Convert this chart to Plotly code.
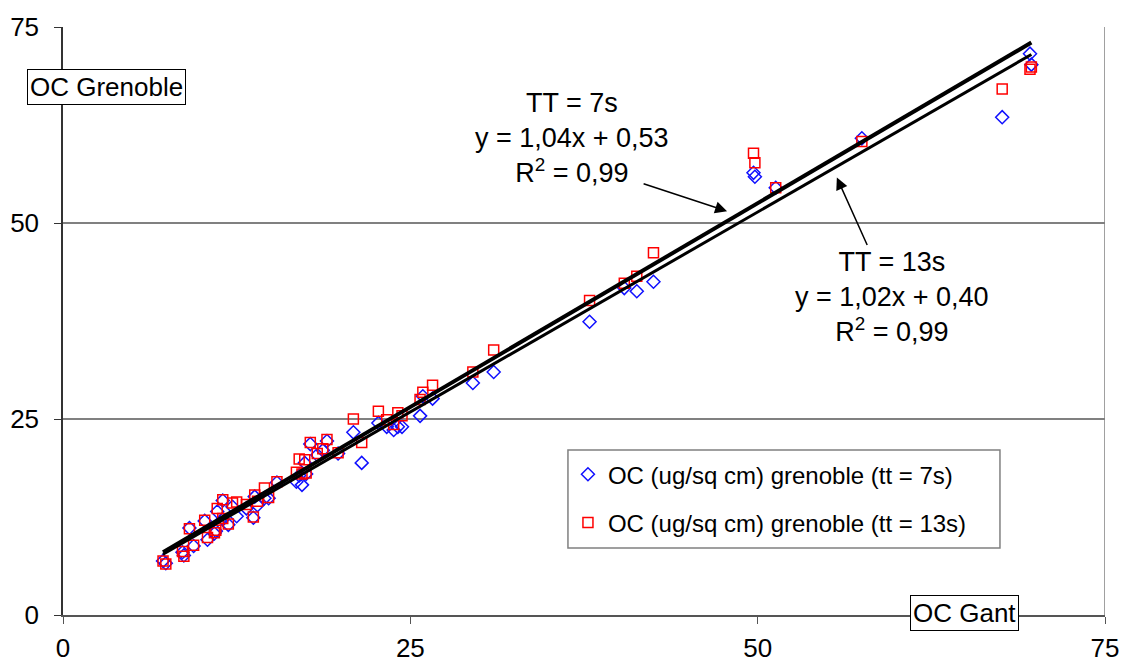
import plotly.graph_objects as go

# OC Gant (x) vs OC Grenoble (y) for both transit times
oc_gant = [7.2, 7.4, 8.6, 8.7, 9.1, 9.4, 10.2, 10.4, 10.9, 11.1, 11.0, 11.5, 11.5, 11.9,
           12.2, 12.5, 13.2, 13.7, 13.8, 14.0, 14.5, 14.8, 15.4, 16.8, 17.0, 17.2, 17.4,
           17.5, 17.8, 18.3, 18.7, 19.0, 19.8, 20.9, 21.5, 22.7, 23.3, 23.8, 24.1, 24.4,
           25.7, 25.9, 26.6, 29.5, 31.0, 37.9, 40.4, 41.3, 42.5, 49.7, 49.8, 51.3, 57.5,
           67.6, 69.6, 69.7]
oc_gre_7s = [6.9, 6.6, 8.0, 7.6, 11.1, 8.8, 12.0, 9.6, 10.4, 13.2, 10.7, 14.6, 12.2, 11.5,
             13.8, 12.6, 13.6, 12.4, 15.1, 14.0, 14.9, 14.9, 16.9, 17.0, 17.8, 16.6, 19.4,
             18.0, 21.8, 20.4, 21.0, 22.2, 20.6, 23.3, 19.4, 24.5, 24.0, 23.6, 24.0, 24.0,
             25.4, 27.9, 27.6, 29.6, 31.0, 37.4, 41.7, 41.3, 42.5, 56.4, 55.9, 54.5, 60.8,
             63.5, 71.6, 70.2]
oc_gre_13s = [6.9, 6.5, 8.1, 7.5, 11.0, 8.9, 12.1, 9.9, 10.5, 13.6, 10.8, 14.7, 12.3, 11.6,
              14.3, 14.4, 14.1, 12.5, 15.3, 14.5, 16.2, 15.0, 17.0, 18.2, 19.9, 18.0, 19.8,
              18.1, 22.0, 20.6, 21.2, 22.4, 20.7, 25.0, 22.0, 26.0, 24.9, 24.3, 25.8, 25.4,
              27.5, 28.4, 29.3, 31.0, 33.8, 40.1, 42.3, 43.2, 46.2, 58.9, 57.7, 54.5, 60.4,
              67.1, 69.6, 69.9]

# linear trendlines as given on the chart
fit_7s = (1.04, 0.53)
fit_13s = (1.02, 0.40)

FONT = "Liberation Sans, Arial, sans-serif"

fig = go.Figure()

fig.add_trace(go.Scatter(
    x=oc_gant, y=oc_gre_7s, mode="markers",
    name="OC (ug/sq cm) grenoble (tt = 7s)", legendgroup="a",
    marker=dict(symbol="diamond-open", size=10, color="#1010ff", line=dict(width=1.5)),
))
fig.add_trace(go.Scatter(
    x=oc_gant, y=oc_gre_13s, mode="markers",
    name="OC (ug/sq cm) grenoble (tt = 13s)", legendgroup="b",
    marker=dict(symbol="square-open", size=10, color="#ff0000", line=dict(width=1.5)),
))

# trendlines over the data range
x_ends = [min(oc_gant), max(oc_gant)]
for (a, b), w in [(fit_7s, 4), (fit_13s, 3)]:
    fig.add_trace(go.Scatter(
        x=x_ends, y=[a * v + b for v in x_ends], mode="lines",
        line=dict(color="black", width=w), showlegend=False, hoverinfo="skip",
    ))

# page body adds an 8px offset, so the figure is a bit smaller than the window
fig.update_layout(
    width=1121, height=658,
    margin=dict(l=55, r=24, t=19, b=51, autoexpand=False),
    paper_bgcolor="white", plot_bgcolor="white",
    font=dict(family=FONT, size=26, color="black"),
    showlegend=True,
    legend=dict(
        x=0.4846, y=0.277, xanchor="left", yanchor="top",
        bgcolor="rgba(0,0,0,0)", font=dict(size=24),
        traceorder="grouped", tracegroupgap=14,
    ),
    xaxis=dict(
        range=[0, 75], tickvals=[0, 25, 50, 75], showgrid=False, zeroline=False,
        showline=True, linecolor="#555555", linewidth=1.5, automargin=False,
        ticks="outside", ticklen=7, tickcolor="#555555", ticklabelstandoff=2,
    ),
    yaxis=dict(
        range=[0, 75], tickvals=[0, 25, 50, 75], showgrid=True, gridcolor="#808080",
        gridwidth=1.5, zeroline=False, automargin=False,
        showline=True, linecolor="#333333", linewidth=1.5,
        ticks="outside", ticklen=7, tickcolor="#333333", ticklabelstandoff=10,
    ),
    shapes=[
        # right border of the plot area
        dict(type="line", xref="x", yref="y", x0=75, x1=75, y0=0, y1=75,
             line=dict(color="#808080", width=1.5)),
        # legend frame
        dict(type="rect", xref="paper", yref="paper", x0=0.4846, x1=0.8992,
             y0=0.114, y1=0.2806, line=dict(color="#808080", width=1.5),
             fillcolor="white", layer="below"),
    ],
    annotations=[
        dict(text="TT = 7s<br>y = 1,04x + 0,53<br>R<sup>2</sup> = 0,99",
             x=36.6, y=60.8, xref="x", yref="y", showarrow=False, align="center",
             font=dict(size=27)),
        dict(text="TT = 13s<br>y = 1,02x + 0,40<br>R<sup>2</sup> = 0,99",
             x=59.7, y=40.6, xref="x", yref="y", showarrow=False, align="center",
             font=dict(size=27)),
        dict(text="", x=47.8, y=51.5, xref="x", yref="y", showarrow=True,
             ax=-85, ay=-28, arrowhead=2, arrowsize=1.6, arrowwidth=1.5, arrowcolor="black"),
        dict(text="", x=55.7, y=55.8, xref="x", yref="y", showarrow=True,
             ax=31, ay=69, arrowhead=2, arrowsize=1.6, arrowwidth=1.5, arrowcolor="black"),
        dict(text="OC Grenoble", x=-0.0345, y=0.898, xref="paper", yref="paper",
             xanchor="left", yanchor="middle", showarrow=False, bgcolor="white",
             bordercolor="black", borderwidth=1, borderpad=2, font=dict(size=26)),
        dict(text="OC Gant", x=0.8129, y=0.003, xref="paper", yref="paper",
             xanchor="left", yanchor="middle", showarrow=False, bgcolor="white",
             bordercolor="black", borderwidth=1, borderpad=2, font=dict(size=26)),
    ],
)

fig.write_html("out.html")
